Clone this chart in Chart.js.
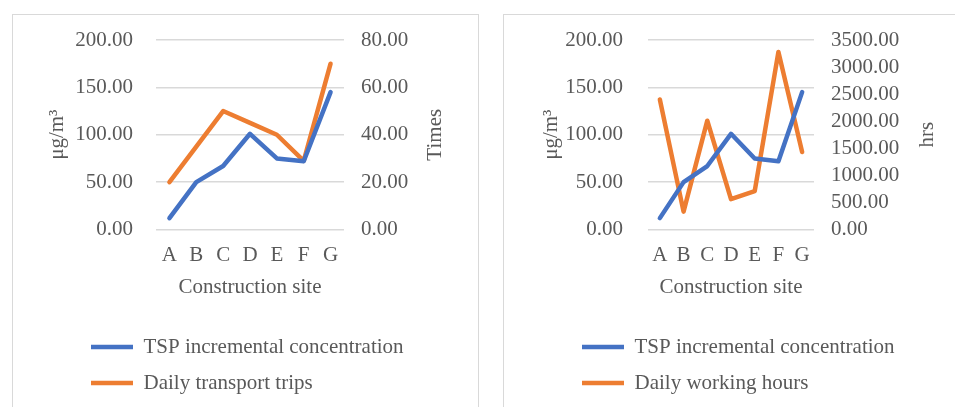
<!DOCTYPE html>
<html>
<head>
<meta charset="utf-8">
<script src="https://cdn.jsdelivr.net/npm/chart.js@4.4.1/dist/chart.umd.min.js"></script>
<style>
  html, body { margin: 0; padding: 0; background: #fff; overflow: hidden; }
  .panel { position: absolute; top: 14px; height: 410px; border: 1px solid #d9d9d9; box-sizing: border-box; }
  #p1 { left: 12px; width: 467px; }
  #p2 { left: 503px; width: 470px; }
  canvas { position: absolute; top: 15px; }
  #c1 { left: 13px; }
  #c2 { left: 504px; }
</style>
</head>
<body>
<div class="panel" id="p1"></div>
<div class="panel" id="p2"></div>
<canvas id="c1" width="464" height="392" style="width:464px;height:392px"></canvas>
<canvas id="c2" width="451" height="392" style="width:451px;height:392px"></canvas>
<script>
// data
const sites = ['A', 'B', 'C', 'D', 'E', 'F', 'G'];
const tspConcentration = [12, 50, 67, 101, 75, 72, 145];
const transportTrips = [20, 35, 50, 45, 40, 29, 70];
const workingHours = [2400, 330, 2010, 560, 710, 3280, 1430];

const leftTicks = { min: 0, max: 200, step: 50 };
const tripsTicks = { min: 0, max: 80, step: 20 };
const hoursTicks = { min: 0, max: 3500, step: 500 };

const BLUE = '#4472C4';
const ORANGE = '#ED7D31';
const TEXT = '#595959';
const FONT = 'Liberation Serif';

Chart.defaults.font.family = FONT;
Chart.defaults.font.size = 21;
Chart.defaults.color = TEXT;

// right axis title reads bottom-to-top like in Excel
const rightTitle = {
  id: 'rightTitle',
  afterDraw(chart, args, opts) {
    const { ctx, chartArea } = chart;
    ctx.save();
    ctx.font = '21px ' + FONT;
    ctx.fillStyle = TEXT;
    ctx.textAlign = 'center';
    ctx.textBaseline = 'middle';
    ctx.translate(opts.x, (chartArea.top + chartArea.bottom) / 2);
    ctx.rotate(-Math.PI / 2);
    ctx.fillText(opts.text, 0, 0);
    ctx.restore();
  }
};

// move the legend block so its rows start under the plot
const legendShift = {
  id: 'legendShift',
  afterLayout(chart, args, opts) {
    chart.legend.left += opts.dx;
    chart.legend.right += opts.dx;
  }
};

function makeChart(id, s) {
  const line = (label, data, color, axis) => ({
    label: label,
    data: data,
    borderColor: color,
    backgroundColor: color,
    borderWidth: 4.5,
    borderCapStyle: 'round',
    borderJoinStyle: 'round',
    pointRadius: 0,
    tension: 0,
    yAxisID: axis
  });

  return new Chart(document.getElementById(id), {
    type: 'line',
    data: {
      labels: sites,
      datasets: [
        line('TSP incremental concentration', tspConcentration, BLUE, 'y'),
        line(s.label2, s.data2, ORANGE, 'y1')
      ]
    },
    options: {
      responsive: false,
      animation: false,
      layout: { padding: { top: 25, bottom: 3.5, left: 0, right: 0 } },
      plugins: {
        tooltip: { enabled: false },
        legend: {
          position: 'bottom',
          align: 'start',
          labels: {
            usePointStyle: true,
            pointStyle: 'line',
            pointStyleWidth: 42,
            padding: 15,
            color: TEXT,
            font: { size: 21 }
          }
        },
        rightTitle: { text: s.rightTitle, x: s.rightTitleX },
        legendShift: { dx: 63 }
      },
      scales: {
        x: {
          offset: true,
          grid: { display: false },
          border: { display: false },
          ticks: { padding: 5 },
          title: { display: true, text: 'Construction site', padding: { top: 0, bottom: 21 } },
          afterFit: (sc) => { sc.height = 92; }
        },
        y: {
          position: 'left',
          min: leftTicks.min,
          max: leftTicks.max,
          // gap between labels and plot comes from a hidden tick mark
          grid: { color: '#d9d9d9', lineWidth: 1.5, drawTicks: true, tickLength: s.leftGap, tickColor: 'rgba(0,0,0,0)' },
          border: { display: false },
          ticks: { stepSize: leftTicks.step, padding: 0, autoSkip: false, callback: (v) => v.toFixed(2) },
          title: { display: true, text: 'μg/m³', padding: { top: s.titlePad, bottom: 0 } },
          afterFit: (sc) => { sc.width = s.leftW; }
        },
        y1: {
          position: 'right',
          min: s.ticks.min,
          max: s.ticks.max,
          grid: { display: false, drawTicks: true, tickLength: 17 },
          border: { display: false },
          ticks: { stepSize: s.ticks.step, padding: 0, autoSkip: false, callback: (v) => v.toFixed(2) },
          afterFit: (sc) => { sc.width = s.rightW; }
        }
      }
    },
    plugins: [rightTitle, legendShift]
  });
}

makeChart('c1', {
  label2: 'Daily transport trips',
  data2: transportTrips,
  ticks: tripsTicks,
  rightTitle: 'Times',
  rightTitleX: 422,
  leftW: 143,
  rightW: 133,
  leftGap: 23,
  titlePad: 32
});

makeChart('c2', {
  label2: 'Daily working hours',
  data2: workingHours,
  ticks: hoursTicks,
  rightTitle: 'hrs',
  rightTitleX: 423,
  leftW: 144,
  rightW: 141,
  leftGap: 25,
  titlePad: 35
});
</script>
</body>
</html>
